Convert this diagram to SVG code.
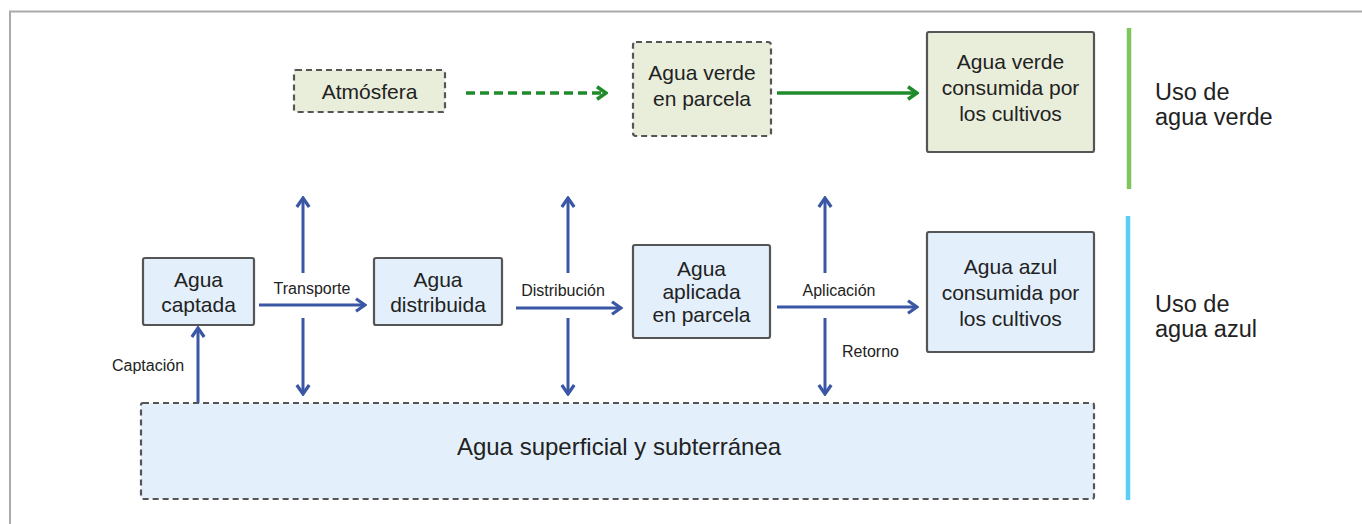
<svg xmlns="http://www.w3.org/2000/svg" width="1362" height="524" viewBox="0 0 1362 524">
<defs>
<style>
.t{font-family:"Liberation Sans",Arial,sans-serif;fill:#222;}
.n{font-size:21px;text-anchor:middle;}
.s{font-size:16px;}
.side{font-size:23.5px;}
.gbox{fill:#e9eedb;stroke:#555;stroke-width:2.2;}
.bbox{fill:#e3f0fc;stroke:#555;stroke-width:2.2;}
.dash{stroke-dasharray:6 4;}
.ba{stroke:#3a57a5;stroke-width:3;fill:none;}
.ga{stroke:#1f8b2b;stroke-width:3.5;fill:none;}
</style>
<marker id="hb" viewBox="0 0 13 16" refX="11" refY="8" markerWidth="13" markerHeight="16" markerUnits="userSpaceOnUse" orient="auto">
<path d="M2,1.8 L11,8 L2,14.2" fill="none" stroke="#3a57a5" stroke-width="3.2"/>
</marker>
<marker id="hg" viewBox="0 0 13 16" refX="11" refY="8" markerWidth="13" markerHeight="16" markerUnits="userSpaceOnUse" orient="auto">
<path d="M2,1.8 L11,8 L2,14.2" fill="none" stroke="#1f8b2b" stroke-width="3.6"/>
</marker>
</defs>
<rect width="1362" height="524" fill="#fff"/>
<path d="M10,524 V11.5 H1362" fill="none" stroke="#aaa" stroke-width="2"/>

<g id="connectors">
<line class="ga" x1="466" y1="93" x2="606" y2="93" stroke-dasharray="9 5" marker-end="url(#hg)"/>
<line class="ga" x1="777" y1="93" x2="917" y2="93" marker-end="url(#hg)"/>
<line class="ba" x1="259" y1="305" x2="365" y2="305" marker-end="url(#hb)"/>
<line class="ba" x1="516" y1="308" x2="621" y2="308" marker-end="url(#hb)"/>
<line class="ba" x1="777" y1="307" x2="917" y2="307" marker-end="url(#hb)"/>
<line class="ba" x1="303" y1="273" x2="303" y2="198" marker-end="url(#hb)"/>
<line class="ba" x1="303" y1="318" x2="303" y2="394" marker-end="url(#hb)"/>
<line class="ba" x1="568" y1="273" x2="568" y2="198" marker-end="url(#hb)"/>
<line class="ba" x1="568" y1="318" x2="568" y2="394" marker-end="url(#hb)"/>
<line class="ba" x1="825" y1="273" x2="825" y2="198" marker-end="url(#hb)"/>
<line class="ba" x1="825" y1="318" x2="825" y2="394" marker-end="url(#hb)"/>
<line class="ba" x1="198" y1="403" x2="198" y2="328" marker-end="url(#hb)"/>
<text class="t s" x="312" y="294" text-anchor="middle">Transporte</text>
<text class="t s" x="563" y="296" text-anchor="middle">Distribución</text>
<text class="t s" x="839" y="296" text-anchor="middle">Aplicación</text>
<text class="t s" x="842" y="357">Retorno</text>
<text class="t s" x="112" y="371">Captación</text>
</g>

<g id="atmosfera">
<rect class="gbox dash" x="294" y="70" width="151" height="42" rx="2"/>
<text class="t n" x="369.5" y="99">Atmósfera</text>
</g>
<g id="agua-verde-parcela">
<rect class="gbox dash" x="633" y="42" width="138" height="94" rx="3"/>
<text class="t n" x="702" y="80">Agua verde</text>
<text class="t n" x="702" y="106">en parcela</text>
</g>
<g id="agua-verde-consumida">
<rect class="gbox" x="927" y="32" width="167" height="120" rx="2"/>
<text class="t n" x="1010.5" y="69">Agua verde</text>
<text class="t n" x="1010.5" y="95">consumida por</text>
<text class="t n" x="1010.5" y="121">los cultivos</text>
</g>
<g id="uso-verde">
<line x1="1129" y1="28" x2="1129" y2="189" stroke="#7cc65c" stroke-width="4.5"/>
<text class="t side" x="1155" y="100">Uso de</text>
<text class="t side" x="1155" y="125">agua verde</text>
</g>

<g id="agua-captada">
<rect class="bbox" x="143" y="258" width="111" height="67" rx="2"/>
<text class="t n" x="198.5" y="287">Agua</text>
<text class="t n" x="198.5" y="312">captada</text>
</g>
<g id="agua-distribuida">
<rect class="bbox" x="374" y="258" width="128" height="67" rx="2"/>
<text class="t n" x="438" y="287">Agua</text>
<text class="t n" x="438" y="312">distribuida</text>
</g>
<g id="agua-aplicada">
<rect class="bbox" x="633" y="245" width="137" height="93" rx="2"/>
<text class="t n" x="701.5" y="276">Agua</text>
<text class="t n" x="701.5" y="299">aplicada</text>
<text class="t n" x="701.5" y="322">en parcela</text>
</g>
<g id="agua-azul-consumida">
<rect class="bbox" x="927" y="232" width="167" height="120" rx="2"/>
<text class="t n" x="1010.5" y="274">Agua azul</text>
<text class="t n" x="1010.5" y="300">consumida por</text>
<text class="t n" x="1010.5" y="326">los cultivos</text>
</g>
<g id="agua-superficial">
<rect class="bbox dash" x="141" y="403" width="953" height="96" rx="2"/>
<text class="t" x="619" y="455" font-size="24" text-anchor="middle">Agua superficial y subterránea</text>
</g>
<g id="uso-azul">
<line x1="1128" y1="216" x2="1128" y2="500" stroke="#5ccdf5" stroke-width="4.5"/>
<text class="t side" x="1155" y="312">Uso de</text>
<text class="t side" x="1155" y="337">agua azul</text>
</g>
</svg>
